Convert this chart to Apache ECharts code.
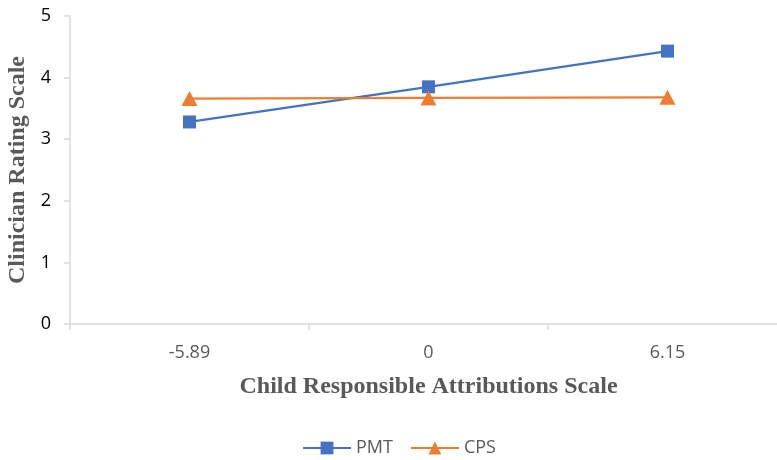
<!DOCTYPE html>
<html><head><meta charset="utf-8">
<script src="https://cdn.jsdelivr.net/npm/echarts@6/dist/echarts.min.js"></script>
<style>html,body{margin:0;padding:0;background:#fff}#c{width:777px;height:460px}</style>
</head><body><div id="c"></div>
<script>
const categories = ['-5.89', '0', '6.15'];
const pmtValues = [3.28, 3.85, 4.43];
const cpsValues = [3.66, 3.67, 3.68];
const yTicks = [0, 1, 2, 3, 4, 5];

const chart = echarts.init(document.getElementById('c'), null, {renderer: 'canvas'});
chart.setOption({
  animation: false,
  backgroundColor: '#ffffff',
  grid: {left: 70, top: 16, height: 308, width: 717, outerBoundsMode: 'none', containLabel: false},
  legend: {
    bottom: 3, left: 302, padding: 0,
    itemWidth: 48, itemHeight: 16, itemGap: 17,
    textStyle: {fontFamily: 'Open Sans', fontSize: 18, color: '#595959'},
    data: ['PMT', 'CPS']
  },
  xAxis: {
    type: 'category', data: categories, boundaryGap: true,
    name: 'Child Responsible Attributions Scale', nameLocation: 'middle', nameGap: 51,
    nameTextStyle: {fontFamily: 'Liberation Serif', fontWeight: 'bold', fontSize: 24, color: '#595959'},
    axisLine: {lineStyle: {color: '#d9d9d9', width: 1.5}},
    axisTick: {show: true, alignWithLabel: false, length: 6, lineStyle: {color: '#d9d9d9', width: 1.5}},
    axisLabel: {fontFamily: 'Open Sans', fontSize: 18, color: '#595959', margin: 20}
  },
  yAxis: {
    type: 'value', min: 0, max: 5, interval: 1,
    name: 'Clinician Rating Scale', nameLocation: 'middle', nameGap: 30, nameRotate: 90,
    nameTextStyle: {fontFamily: 'Liberation Serif', fontWeight: 'bold', fontSize: 24, color: '#595959'},
    axisLine: {show: true, lineStyle: {color: '#d9d9d9', width: 1.5}},
    axisTick: {show: true, length: 6, lineStyle: {color: '#d9d9d9', width: 1.5}},
    splitLine: {show: false},
    axisLabel: {fontFamily: 'Open Sans', fontSize: 18, color: '#000000', margin: 19,
      formatter: v => yTicks.includes(v) ? String(v) : ''}
  },
  series: [
    {name: 'PMT', type: 'line', data: pmtValues, symbol: 'rect', symbolSize: 13,
     itemStyle: {color: '#4472C4'}, lineStyle: {color: '#4472C4', width: 2.25}},
    {name: 'CPS', type: 'line', data: cpsValues, symbol: 'triangle', symbolSize: [16, 15],
     itemStyle: {color: '#ED7D31'}, lineStyle: {color: '#ED7D31', width: 2.25}}
  ]
});
</script></body></html>
